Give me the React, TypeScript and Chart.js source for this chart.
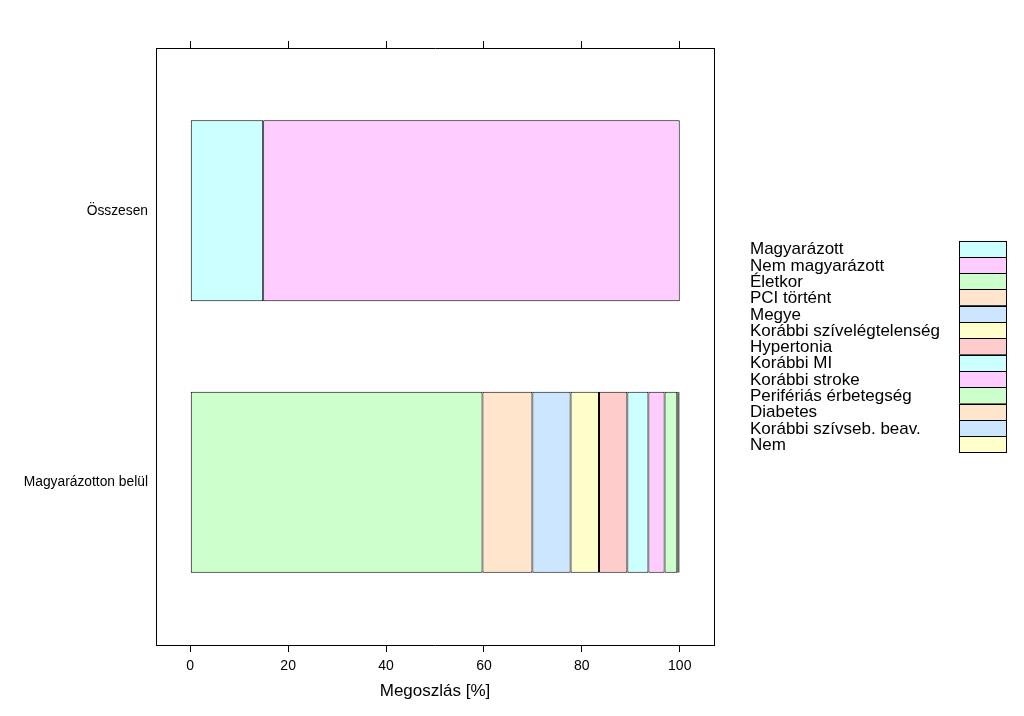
import React, { useEffect, useRef } from "react";
import { Chart, registerables } from "chart.js";

Chart.register(...registerables);

const categories = ["Összesen", "Magyarázotton belül"];
const totalLabels = ["Magyarázott", "Nem magyarázott"];
const totalValues = [14.9, 85.1];
const factorLabels = [
  "Életkor",
  "PCI történt",
  "Megye",
  "Korábbi szívelégtelenség",
  "Hypertonia",
  "Korábbi MI",
  "Korábbi stroke",
  "Perifériás érbetegség",
  "Diabetes",
  "Korábbi szívseb. beav.",
  "Nem",
];
const factorValues = [59.7, 10.2, 7.8, 5.8, 5.8, 4.3, 3.3, 2.6, 0.3, 0.1, 0.1];
const xTicks = [0, 20, 40, 60, 80, 100];
const palette = ["#CCFFFF", "#FFCCFF", "#CCFFCC", "#FFE5CC", "#CCE6FF", "#FFFFCC", "#FFCCCC"];

const FONT = "'Liberation Sans', Arial, sans-serif";

const rightLegend = {
  id: "rightLegend",
  afterDraw(chart: any) {
    const { ctx, chartArea } = chart;
    const ds = chart.data.datasets;
    const rowH = 16.3;
    const total = rowH * ds.length;
    const top = (chartArea.top + chartArea.bottom) / 2 - total / 2;
    const textX = chartArea.right + 36;
    const boxX = chartArea.right + 245;
    const boxW = 47;
    ctx.save();
    ctx.font = `17px ${FONT}`;
    ctx.textBaseline = "middle";
    ctx.textAlign = "left";
    ds.forEach((d: any, i: number) => {
      const y = top + i * rowH;
      ctx.fillStyle = d.backgroundColor;
      ctx.fillRect(boxX, y, boxW, rowH);
      ctx.strokeStyle = "#000";
      ctx.lineWidth = 1;
      ctx.strokeRect(Math.round(boxX) + 0.5, Math.round(y) + 0.5, boxW, Math.round(rowH));
      ctx.fillStyle = "#000";
      ctx.fillText(d.label, textX, y + rowH / 2 + 1);
    });
    ctx.restore();
  },
};

export default function App() {
  const ref = useRef<HTMLCanvasElement>(null);
  useEffect(() => {
    if (!ref.current) return;
    const datasets: any[] = [];
    totalLabels.forEach((l, i) => {
      datasets.push({
        label: l,
        data: [{ x: totalValues[i], y: 1 }],
        backgroundColor: palette[i % palette.length],
      });
    });
    factorLabels.forEach((l, i) => {
      datasets.push({
        label: l,
        data: [{ x: factorValues[i], y: 2 }],
        backgroundColor: palette[(i + totalLabels.length) % palette.length],
      });
    });
    datasets.forEach((d) => {
      d.borderColor = "#000";
      d.borderWidth = 1;
      d.borderSkipped = false;
      d.stack = "all";
      d.barPercentage = 0.667;
      d.categoryPercentage = 1;
    });
    const setTicks = (scale: any) => {
      scale.ticks = xTicks.map((v) => ({ value: v }));
    };
    const chart = new Chart(ref.current, {
      type: "bar",
      data: { datasets },
      plugins: [rightLegend],
      options: {
        responsive: false,
        animation: false,
        indexAxis: "y",
        layout: { padding: { left: 0, right: 310, top: 0, bottom: 0 } },
        plugins: { legend: { display: false }, tooltip: { enabled: false } },
        scales: {
          x: {
            type: "linear",
            position: "bottom",
            stacked: true,
            offset: false,
            min: -7,
            max: 107,
            afterBuildTicks: setTicks,
            afterFit: (s: any) => { s.height = 71; },
            grid: { drawOnChartArea: false, drawTicks: true, tickLength: 7, tickColor: "#000", tickWidth: 1 },
            border: { display: true, color: "#000", width: 1 },
            ticks: { color: "#000", font: { family: FONT, size: 14 }, padding: 6, maxRotation: 0 },
            title: { display: true, text: "Megoszlás [%]", color: "#000", font: { family: FONT, size: 17 }, padding: { top: 0, bottom: 14 } },
          },
          x2: {
            type: "linear",
            position: "top",
            offset: false,
            min: -7,
            max: 107,
            afterBuildTicks: setTicks,
            afterFit: (s: any) => { s.height = 48; },
            grid: { drawOnChartArea: false, drawTicks: true, tickLength: 7, tickColor: "#000", tickWidth: 1 },
            border: { display: true, color: "#000", width: 1 },
            ticks: { display: false },
          },
          y: {
            type: "linear",
            position: "left",
            stacked: true,
            reverse: true,
            offset: false,
            min: 0.4,
            max: 2.6,
            afterBuildTicks: (s: any) => { s.ticks = categories.map((_, i) => ({ value: i + 1 })); },
            afterFit: (s: any) => { s.width = 156; },
            grid: { drawOnChartArea: false, drawTicks: false },
            border: { display: true, color: "#000", width: 1 },
            ticks: {
              color: "#000",
              font: { family: FONT, size: 13.8 },
              padding: 8,
              callback: (v: any) => categories[Math.round(v) - 1] ?? "",
            },
          },
          y2: {
            type: "linear",
            position: "right",
            offset: false,
            afterFit: (s: any) => { s.width = 0; },
            grid: { drawOnChartArea: false, drawTicks: false },
            border: { display: true, color: "#000", width: 1 },
            ticks: { display: false },
          },
        },
      } as any,
    });
    return () => chart.destroy();
  }, []);
  return (
    <canvas
      ref={ref}
      width={1024}
      height={716}
      style={{ position: "absolute", left: 0, top: 0, display: "block", background: "#fff" }}
    />
  );
}
